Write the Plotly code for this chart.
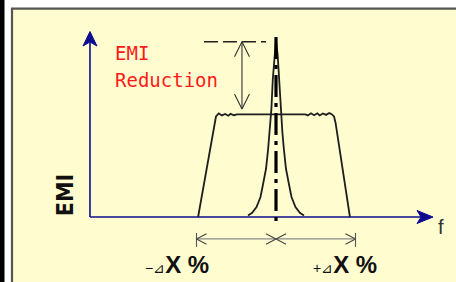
import plotly.graph_objects as go

# ---------------- data (x: frequency offset in units of ΔX, y: EMI level, % of unmodulated peak)
spread_x = [-0.98, -0.775, -0.755, -0.72, -0.68, -0.64, -0.60, -0.57, -0.53, -0.49, -0.45,
            0.37, 0.40, 0.44, 0.48, 0.52, 0.55, 0.59, 0.63, 0.67, 0.70, 0.73, 0.75, 0.93]
spread_y = [0, 53, 56.8, 58.5, 57.4, 58.2, 57.2, 58.3, 57.5, 58.0, 58.0,
            58.0, 57.4, 58.6, 57.5, 58.6, 57.4, 58.5, 57.7, 58.8, 58.1, 56.8, 53, 0]

peak_x = [-0.352, -0.300, -0.245, -0.195, -0.160, -0.126, -0.100, -0.080, -0.058, -0.040, -0.021, 0,
          0.021, 0.040, 0.058, 0.080, 0.100, 0.126, 0.160, 0.195, 0.245, 0.300, 0.352]
peak_y = [0.85, 2.4, 5.6, 11.3, 19.2, 27.1, 37.9, 48.0, 61.0, 78.0, 91.5, 100,
          91.5, 78.0, 61.0, 48.0, 37.9, 27.1, 19.2, 11.3, 5.6, 2.4, 0.85]

center_x = 0.0
peak_ref_level = 99.0        # dashed reference line (original peak)
spread_level = 61.0          # bottom of reduction arrow
reduction_x = -0.428
ref_line_x = [-0.906, -0.126]
delta = 1.0                  # ±ΔX %
dim_level = -12.4
axis_origin = (-2.34, 0.0)
x_axis_end = 1.975
y_axis_end = 104.8

X_RANGE = [-3.4717, 2.2642]
Y_RANGE = [-36.72, 122.60]

BLUE = "#0c0c8e"
INK = "#1e1e1e"

fig = go.Figure()

def line(xs, ys, color, width, dash=None, fill=None):
    fig.add_trace(go.Scatter(x=xs, y=ys, mode="lines", hoverinfo="skip", showlegend=False,
                             line=dict(color=color, width=width, dash=dash),
                             fill=fill, fillcolor=color if fill else None))

# axes (blue arrows)
ox, oy = axis_origin
line([ox, ox], [oy, y_axis_end - 6], BLUE, 1.6)
line([ox, ox - 0.088, ox, ox + 0.088, ox], [y_axis_end, y_axis_end - 8.2, y_axis_end - 5.9, y_axis_end - 8.2, y_axis_end], BLUE, 1, fill="toself")
line([ox, x_axis_end - 0.15], [oy, oy], BLUE, 1.6)
line([x_axis_end, x_axis_end - 0.201, x_axis_end - 0.151, x_axis_end - 0.201, x_axis_end], [oy, oy + 3.67, oy, oy - 3.67, oy], BLUE, 1, fill="toself")

# spectra
line(spread_x, spread_y, INK, 1.8)
line(peak_x, peak_y, INK, 1.8)

# dashed reference line for original peak
line(ref_line_x, [peak_ref_level, peak_ref_level], INK, 1.6, dash="14px,5px")

# reduction double arrow (open heads)
line([reduction_x, reduction_x], [peak_ref_level, spread_level], "#333333", 1.1)
hw, hh = 0.094, 8.5
line([reduction_x - hw, reduction_x, reduction_x + hw], [peak_ref_level - hh, peak_ref_level, peak_ref_level - hh], "#333333", 1.1)
line([reduction_x - hw, reduction_x, reduction_x + hw], [spread_level + hh, spread_level, spread_level + hh], "#333333", 1.1)

# centre frequency dash-dot line
line([center_x, center_x], [101.7, -5.1], "#000000", 3.2, dash="22px,6px,4px,6px")

# dimension line ±ΔX
line([-delta, delta], [dim_level, dim_level], "#8a8a8a", 1.3)
for xe in (-delta, delta):
    line([xe, xe], [dim_level + 3.4, dim_level - 4.5], "#555555", 1.1)
aw, ah = 0.126, 3.0
for xe, sgn in ((-delta, 1), (center_x, -1), (center_x, 1), (delta, -1)):
    line([xe + sgn * aw, xe, xe + sgn * aw], [dim_level + ah, dim_level, dim_level - ah], "#444444", 1.1)

# ---------------- background panel
shapes = [
    dict(type="rect", xref="paper", yref="paper", x0=12 / 456, x1=1, y0=0, y1=1 - 8.5 / 282,
         fillcolor="#FFFDCF", line=dict(width=0), layer="below"),
    dict(type="line", xref="paper", yref="paper", x0=12 / 456, x1=12 / 456, y0=0, y1=1 - 8 / 282,
         line=dict(color="#555555", width=2.2), layer="below"),
    dict(type="line", xref="paper", yref="paper", x0=11 / 456, x1=1, y0=1 - 8.6 / 282, y1=1 - 8.6 / 282,
         line=dict(color="#555555", width=2.2), layer="below"),
    dict(type="rect", xref="paper", yref="paper", x0=0, x1=4.5 / 456, y0=0, y1=1,
         fillcolor="#000000", line=dict(width=0), layer="below"),
]

annotations = [
    dict(x=-2.045, y=92.7, text="EMI", xanchor="left", yanchor="middle", showarrow=False,
         font=dict(family="DejaVu Sans Mono", size=19, color="#ff1a1a")),
    dict(x=-2.045, y=77.4, text="Reduction", xanchor="left", yanchor="middle", showarrow=False,
         font=dict(family="DejaVu Sans Mono", size=19, color="#ff1a1a")),
    dict(x=2.075, y=-5.8, text="f", xanchor="center", yanchor="middle", showarrow=False,
         font=dict(family="Liberation Sans", size=20, color="#333333")),
    dict(x=-2.652, y=12.4, text="<b>EMI</b>", textangle=-90, xanchor="center", yanchor="middle",
         showarrow=False, font=dict(family="DejaVu Sans Condensed", size=23, color="#111111")),
    dict(x=-1.24, y=-27.1, text="<span style='font-size:14px'>−⊿</span><b>X %</b>", xanchor="center",
         yanchor="middle", showarrow=False, font=dict(family="Liberation Sans", size=24, color="#111111")),
    dict(x=0.862, y=-27.1, text="<span style='font-size:14px'>+⊿</span><b>X %</b>", xanchor="center",
         yanchor="middle", showarrow=False, font=dict(family="Liberation Sans", size=24, color="#111111")),
]

fig.update_layout(
    width=456, height=282, margin=dict(l=0, r=0, t=0, b=0),
    paper_bgcolor="#ffffff", plot_bgcolor="rgba(0,0,0,0)",
    xaxis=dict(range=X_RANGE, visible=False, fixedrange=True),
    yaxis=dict(range=Y_RANGE, visible=False, fixedrange=True),
    shapes=shapes, annotations=annotations, showlegend=False,
)

fig.write_html("out.html", config={"displayModeBar": False},
               post_script="document.body.style.margin='0';document.body.style.padding='0';"
                           "document.documentElement.style.overflow='hidden';")
